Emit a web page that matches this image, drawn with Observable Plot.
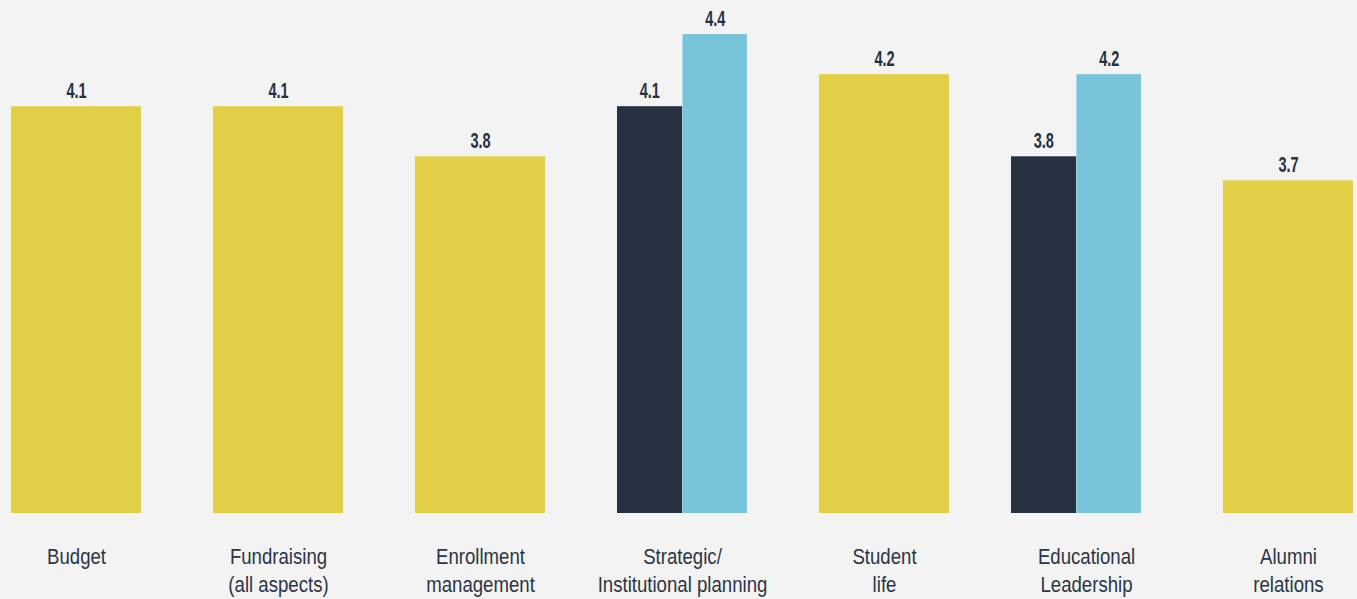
<!DOCTYPE html>
<html><head><meta charset="utf-8">
<script src="https://cdn.jsdelivr.net/npm/d3@7"></script>
<script src="https://cdn.jsdelivr.net/npm/@observablehq/plot@0.6"></script>
<style>html,body{margin:0;padding:0;background:#f3f3f3;overflow:hidden;}</style>
</head><body><div id="chart"></div>
<script>
// ---- data ----
const categories = ["Budget", "Fundraising\n(all aspects)", "Enrollment\nmanagement",
  "Strategic/\nInstitutional planning", "Student\nlife", "Educational\nLeadership", "Alumni\nrelations"];
const singleCategories = ["Budget", "Fundraising\n(all aspects)", "Enrollment\nmanagement", "Student\nlife", "Alumni\nrelations"];
const singleValues = [4.07, 4.07, 3.82, 4.23, 3.70];
const pairedCategories = ["Strategic/\nInstitutional planning", "Educational\nLeadership"];
const seriesA = [4.07, 3.82];
const seriesB = [4.43, 4.23];

// ---- layout / style ----
const W = 1357, H = 599, mL = 8, mR = 1.5, pad = 0.354;
const step = (W - mL - mR) / (categories.length - pad);
const half = step * (1 - pad) / 2;
const yellow = "#e2cf45", navy = "#263142", blue = "#78c4db", ink = "#2b3546";
const fmt = d3.format(".1f");
const shift = {"Educational\nLeadership": -10};
const valueStyle = {lineAnchor: "bottom", dy: -9, fontSize: 22, fontWeight: "bold", fill: navy};

const single = singleCategories.map((c, i) => ({c, v: singleValues[i]}));
const pairMarks = pairedCategories.flatMap((c, i) => {
  const dx = shift[c] || 0;
  const a = [{c, v: seriesA[i]}], b = [{c, v: seriesB[i]}];
  return [
    Plot.barY(a, {x: "c", y: "v", fill: navy, insetRight: half - 0.6, dx}),
    Plot.barY(b, {x: "c", y: "v", fill: blue, insetLeft: half, dx}),
    Plot.text(a, {x: "c", y: "v", text: d => fmt(d.v), ...valueStyle, dx: dx - half / 2}),
    Plot.text(b, {x: "c", y: "v", text: d => fmt(d.v), ...valueStyle, dx: dx + half / 2})
  ];
});

const chart = Plot.plot({
  width: W, height: H,
  marginLeft: mL, marginRight: mR, marginTop: 12, marginBottom: 86,
  style: {background: "#f3f3f3", fontFamily: "'Liberation Sans', Arial, sans-serif"},
  x: {domain: categories, paddingInner: pad, paddingOuter: 0, axis: null},
  y: {domain: [2.04, 4.54], clamp: true, axis: null},
  marks: [
    Plot.barY(single, {x: "c", y: "v", fill: yellow}),
    Plot.text(single, {x: "c", y: "v", text: d => fmt(d.v), ...valueStyle}),
    ...pairMarks,
    Plot.text(categories, {x: d => d, frameAnchor: "bottom", lineAnchor: "top", dy: 31, fontSize: 23, lineHeight: 1.22, fill: ink})
  ]
});

// condense the text horizontally around its anchor (no condensed face is installed)
function condense(sel, s) {
  d3.select(chart).selectAll(sel).each(function () {
    const t = this.getAttribute("transform");
    if (t) this.setAttribute("transform", t + ` scale(${s},1)`);
    else {
      const x = +this.getAttribute("x") || 0;
      this.setAttribute("transform", `translate(${x},0) scale(${s},1) translate(${-x},0)`);
    }
  });
}
condense('g[font-weight="bold"] text', 0.66);
condense('g[font-size="23"] text', 0.81);
document.getElementById("chart").appendChild(chart);
</script>
</body></html>
